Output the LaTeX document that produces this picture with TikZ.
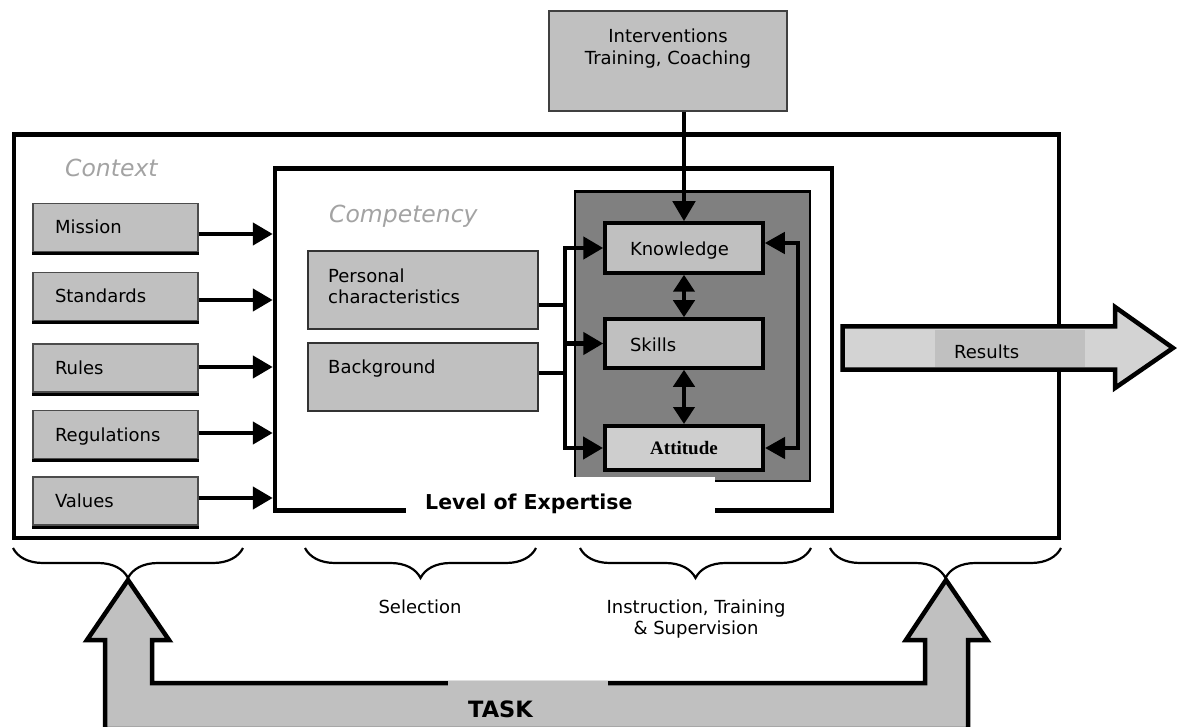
\documentclass[tikz,border=0pt]{standalone}
\usepackage{fontspec}
\setmainfont{DejaVu Sans}
\newfontfamily\attfont{Liberation Serif}
\usetikzlibrary{arrows.meta,decorations.pathreplacing}

\definecolor{boxgray}{HTML}{C0C0C0}
\definecolor{panelgray}{HTML}{808080}
\definecolor{attgray}{HTML}{CECECE}
\definecolor{resgray}{HTML}{D3D3D3}
\definecolor{headgray}{HTML}{A3A3A3}

\begin{document}
\begin{tikzpicture}[x=1pt,y=-1pt,
  font=\fontsize{18}{21.5}\selectfont,
  conn/.style={line width=4.5pt, -{Triangle[length=20pt,width=22pt]}},
  dbl/.style={line width=4.5pt, {Triangle[length=17pt,width=21pt]}-{Triangle[length=17pt,width=21pt]}},
  loopline/.style={line width=4.5pt, line join=miter, {Triangle[length=20pt,width=21pt]}-{Triangle[length=20pt,width=21pt]}},
  framebox/.style={draw, line width=4.5pt, fill=white, inner sep=0pt},
  ctxbox/.style={draw=black!70, line width=1.2pt, fill=boxgray, minimum width=165pt, minimum height=48pt,
    text width=121pt, inner xsep=22pt, inner ysep=0pt, align=left, text height=13pt, text depth=0pt},
  compbox/.style={draw=black!80, line width=1.5pt, fill=boxgray, minimum width=230pt, inner sep=0pt},
  ksabox/.style={draw, line width=3.5pt, fill=boxgray, minimum width=158pt, text width=108pt,
    inner xsep=25pt, inner ysep=0pt, align=left, text height=15pt, text depth=0pt},
  brc/.style={decorate, decoration={brace, mirror, amplitude=30pt}, line width=2.2pt},
  heading/.style={font=\fontsize{23.5}{28}\selectfont\itshape, text=headgray, anchor=base west, inner sep=0pt},
  lbl/.style={anchor=base west, inner sep=0pt},
]
\useasboundingbox (0,0) rectangle (1178,727);

% outer frame (context) and inner frame (competency)
\node[framebox, minimum width=1045pt, minimum height=403.5pt] (ctx) at (536.5,336.25) {};
\node[framebox, minimum width=557pt, minimum height=342pt] (cp) at (553.5,339.5) {};

\node[heading] (ctxt) at (65,177) {Context};
\node[heading] (cptt) at (329,223) {Competency};

% context elements
\node[ctxbox] (mi) at (115.5,227.5) {Mission};
\node[ctxbox] (st) at (115.5,296.5) {Standards};
\node[ctxbox] (ru) at (115.5,368) {Rules};
\node[ctxbox] (rg) at (115.5,434.5) {Regulations};
\node[ctxbox] (va) at (115.5,501) {Values};
\foreach \b in {mi,st,ru,rg,va}
  \draw[line width=3pt] ([yshift=-1.5pt]\b.south west) -- ([yshift=-1.5pt]\b.south east);
\foreach \b/\d in {mi/-6.5, st/-3.5, ru/1, rg/1.5, va/3}
  \draw[conn] ([yshift=\d pt]\b.east) -- ([yshift=\d pt]\b.east -| cp.west);

% competency inputs
\node[compbox, minimum height=78pt] (pc) at (423,290) {};
\node[anchor=north west, align=left, inner sep=0pt] (pct) at (328,268.3) {Personal\\characteristics};
\node[compbox, minimum height=68pt] (bg) at (423,377) {};
\node[lbl] (bgt) at (328,373) {Background};

% expertise panel
\node[draw, line width=2.5pt, fill=panelgray, minimum width=235pt, minimum height=289.5pt, inner sep=0pt] (pn) at (692.5,336.25) {};

\node[ksabox, minimum height=50pt] (kn) at (684,248) {Knowledge};
\node[ksabox, minimum height=49pt] (sk) at (684,343.5) {Skills};
\node[draw, line width=4pt, fill=attgray, minimum width=158pt, minimum height=44pt,
  font=\attfont\bfseries\fontsize{19}{22}\selectfont] (at) at (684,448) {Attitude};

\draw[dbl] (kn.south) -- (sk.north);
\draw[dbl] (sk.south) -- (at.north);

% bus from the inputs to knowledge, skills and attitude
\coordinate (bus) at (565,0);
\draw[line width=4.5pt, line cap=rect] (kn.west -| bus) -- (at.west -| bus);
\draw[line width=4.5pt] ([yshift=-15pt]pc.east) -- ([yshift=-15pt]pc.east -| bus);
\draw[line width=4.5pt] ([yshift=4pt]bg.east) -- ([yshift=4pt]bg.east -| bus);
\draw[conn] (kn.west -| bus) -- (kn.west);
\draw[conn] (sk.west -| bus) -- (sk.west);
\draw[conn] (at.west -| bus) -- (at.west);

% feedback loop between knowledge and attitude
\coordinate (loop) at (798,0);
\draw[loopline] ([yshift=5pt]kn.east) -- ([yshift=5pt]kn.east -| loop) -- (at.east -| loop) -- (at.east);

% interventions
\node[draw=black!75, line width=1.2pt, fill=boxgray, minimum width=238pt, minimum height=100pt, inner sep=0pt] (iv) at (668,61) {};
\node[anchor=north, align=center, inner sep=0pt] (ivt) at (668,28.9) {Interventions\\Training, Coaching};
\draw[conn] (iv.south -| kn.north) -- (kn.north);

% level label
\fill[white] (406,477) rectangle (715,521);
\node[lbl, font=\bfseries\fontsize{20.5}{24}\selectfont] (lvl) at (425,509) {Level of Expertise};

% results arrow
\draw[line width=4.5pt, fill=resgray, line join=miter]
  (842.5,326.5) -- (1115,326.5) -- (1115,307) -- (1173,348) -- (1115,388) -- (1115,369.5) -- (842.5,369.5) -- cycle;
\fill[boxgray] (935,330) rectangle (1085,367);
\node[lbl] (res) at (954,358) {Results};

% braces
\draw[brc] (13,548) -- (243,548);
\draw[brc] (305,548) -- (536,548);
\draw[brc] (580,548) -- (811,548);
\draw[brc] (830,548) -- (1061,548);
\node[anchor=base, inner sep=0pt] (sel) at (420,613) {Selection};
\node[anchor=north, align=center, inner sep=0pt] (its) at (696,599.3) {Instruction, Training\\\& Supervision};

% task arrow
\draw[line width=4.5pt, fill=boxgray, line join=miter]
  (128,580) -- (169,640) -- (152,640) -- (152,683) -- (925,683) -- (925,640) -- (906,640) -- (946,580)
  -- (987,640) -- (968,640) -- (968,729) -- (105,729) -- (105,640) -- (87,640) -- cycle;
\fill[boxgray] (448,680.5) rectangle (608,726);
\node[lbl, font=\bfseries\fontsize{22.5}{26}\selectfont] (task) at (468,717) {TASK};
\end{tikzpicture}
\end{document}
